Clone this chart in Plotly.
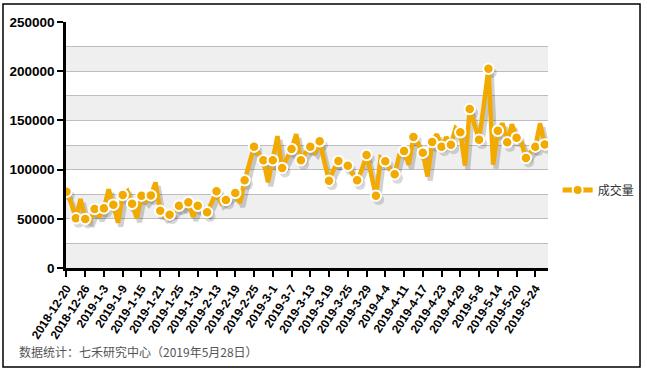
import plotly.graph_objects as go

dates = [
    "2018-12-20", "2018-12-21", "2018-12-24", "2018-12-25", "2018-12-26", "2018-12-27", "2018-12-28",
    "2019-1-2", "2019-1-3", "2019-1-4", "2019-1-7", "2019-1-8", "2019-1-9", "2019-1-10", "2019-1-11",
    "2019-1-14", "2019-1-15", "2019-1-16", "2019-1-17", "2019-1-18", "2019-1-21", "2019-1-22",
    "2019-1-23", "2019-1-24", "2019-1-25", "2019-1-28", "2019-1-29", "2019-1-30", "2019-1-31",
    "2019-2-1", "2019-2-11", "2019-2-12", "2019-2-13", "2019-2-14", "2019-2-15", "2019-2-18",
    "2019-2-19", "2019-2-20", "2019-2-21", "2019-2-22", "2019-2-25", "2019-2-26", "2019-2-27", "2019-2-28",
    "2019-3-1", "2019-3-4", "2019-3-5", "2019-3-6", "2019-3-7", "2019-3-8", "2019-3-11", "2019-3-12",
    "2019-3-13", "2019-3-14", "2019-3-15", "2019-3-18", "2019-3-19", "2019-3-20", "2019-3-21",
    "2019-3-22", "2019-3-25", "2019-3-26", "2019-3-27", "2019-3-28", "2019-3-29",
    "2019-4-1", "2019-4-2", "2019-4-3", "2019-4-4", "2019-4-8", "2019-4-9", "2019-4-10", "2019-4-11",
    "2019-4-12", "2019-4-15", "2019-4-16", "2019-4-17", "2019-4-18", "2019-4-19", "2019-4-22",
    "2019-4-23", "2019-4-24", "2019-4-25", "2019-4-26", "2019-4-29", "2019-4-30",
    "2019-5-6", "2019-5-7", "2019-5-8", "2019-5-9", "2019-5-10", "2019-5-13", "2019-5-14", "2019-5-15",
    "2019-5-16", "2019-5-17", "2019-5-20", "2019-5-21", "2019-5-22", "2019-5-23", "2019-5-24",
    "2019-5-27", "2019-5-28",
]

volume = [
    77500, 66000, 50500, 70000, 49800, 48000, 60000, 52000, 60600, 80000,
    64300, 46000, 74200, 78000, 65300, 50500, 73500, 68000, 73800, 87000,
    58200, 52000, 54200, 57000, 63300, 62000, 66700, 52000, 63300, 60000,
    56600, 67000, 77900, 66000, 69100, 72000, 76200, 66000, 89100, 106000,
    123300, 116000, 109400, 87000, 109400, 134000, 101600, 112000, 120900, 136000,
    109400, 117000, 123300, 118000, 128700, 108000, 88700, 100000, 108700, 106000,
    103900, 96000, 89100, 100000, 114800, 95000, 73500, 112000, 108400, 100000,
    95200, 115000, 118900, 105000, 133100, 126000, 117200, 93000, 128000, 136000,
    123300, 133000, 125300, 142000, 137900, 104000, 161500, 146000, 130400, 165000,
    202500, 105000, 139500, 147000, 127700, 146000, 132400, 128000, 111800, 118000,
    123300, 147000, 125600,
]

series_name = "成交量"
caption = "数据统计：七禾研究中心（2019年5月28日）"
y_ticks = [0, 50000, 100000, 150000, 200000, 250000]
band_edges = [0, 25000, 50000, 75000, 100000, 125000, 150000, 175000, 200000, 225000, 250000]

idx = list(range(len(dates)))
tick_idx = idx[::4]
tick_text = [dates[i] for i in tick_idx]
mark_idx = idx[::2]

ORANGE = "#F2A900"

fig = go.Figure()

# shadow
fig.add_trace(go.Scatter(
    x=[i + 0.6 for i in idx], y=[v - 4000 for v in volume], mode="lines",
    line=dict(color="rgba(0,0,0,0.18)", width=5), hoverinfo="skip", showlegend=False))
fig.add_trace(go.Scatter(
    x=[i + 0.6 for i in mark_idx], y=[volume[i] - 4000 for i in mark_idx], mode="markers",
    marker=dict(color="rgba(0,0,0,0.15)", size=11, line=dict(width=0)),
    hoverinfo="skip", showlegend=False))
# main line
fig.add_trace(go.Scatter(
    x=idx, y=volume, mode="lines", line=dict(color=ORANGE, width=4.5),
    showlegend=False, name=series_name))
fig.add_trace(go.Scatter(
    x=mark_idx, y=[volume[i] for i in mark_idx], mode="markers",
    marker=dict(color=ORANGE, size=10.5, line=dict(color="white", width=2)),
    showlegend=False, name=series_name))
# legend item
fig.add_trace(go.Scatter(
    x=[None], y=[None], mode="lines+markers", name=series_name,
    line=dict(color=ORANGE, width=5),
    marker=dict(color=ORANGE, size=10, line=dict(color="white", width=2))))

shapes = []
for k in range(0, len(band_edges) - 1, 2):
    shapes.append(dict(type="rect", xref="paper", yref="y", x0=0, x1=1,
                       y0=band_edges[k], y1=band_edges[k + 1],
                       fillcolor="#EFEFEF", line=dict(width=0), layer="below"))
# outer border
shapes.append(dict(type="rect", xref="paper", yref="paper",
                   x0=-0.1307, x1=1.1909, y0=-0.4024, y1=1.0732,
                   line=dict(color="black", width=1.5), fillcolor="rgba(0,0,0,0)"))

fig.update_layout(
    width=647, height=373,
    margin=dict(l=66, r=99, t=22, b=105, autoexpand=False),
    paper_bgcolor="white", plot_bgcolor="white",
    shapes=shapes,
    font=dict(family="Liberation Sans, Arial, sans-serif", color="black"),
    legend=dict(x=1.02, y=0.317, xanchor="left", yanchor="middle",
                font=dict(family="Noto Sans CJK SC", size=12, color="#333"),
                bgcolor="rgba(0,0,0,0)", itemwidth=30),
    annotations=[dict(text=caption, xref="paper", yref="paper", x=-0.1017, y=-0.341,
                      xanchor="left", yanchor="middle", showarrow=False,
                      font=dict(family="Noto Sans CJK SC", size=12, color="#555"))],
)

fig.update_xaxes(
    range=[-0.1, 102.7], tickvals=tick_idx, ticktext=tick_text, tickangle=-57,
    tickfont=dict(size=12, weight="bold"), showline=True, linecolor="black", linewidth=2.5,
    ticks="outside", ticklen=6, tickwidth=2, tickcolor="black", showgrid=False, zeroline=False,
    automargin=False,
)
fig.update_yaxes(
    range=[0, 250000], tickvals=y_ticks, ticktext=[str(v) for v in y_ticks],
    tickfont=dict(size=13.5, weight="bold"), showline=True, linecolor="black", linewidth=2.5,
    ticks="outside", ticklen=6, tickwidth=2, tickcolor="black",
    showgrid=True, gridcolor="#BDBDBD", gridwidth=1, zeroline=False,
    minor=dict(dtick=25000, tick0=0, showgrid=True, gridcolor="#BDBDBD", ticks=""),
    automargin=False,
)

fig.write_html("out.html", config={"displayModeBar": False},
               post_script="document.body.style.margin='0';document.body.style.overflow='hidden';")
